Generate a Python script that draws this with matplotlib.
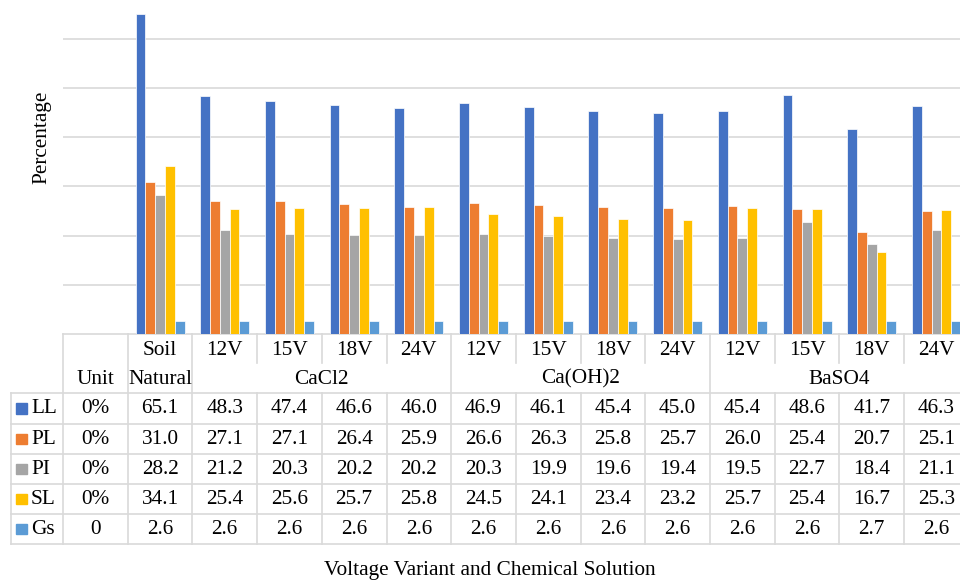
import matplotlib.pyplot as plt
from matplotlib.patches import Rectangle
from matplotlib.transforms import blended_transform_factory

plt.rcParams['font.family'] = ['Liberation Serif', 'DejaVu Serif']

# chart data
voltages = ['12V', '15V', '18V', '24V'] * 3
groups = ['CaCl2', 'Ca(OH)2', 'BaSO4']
series = ['LL', 'PL', 'PI', 'SL', 'Gs']
unit_labels = ['0%', '0%', '0%', '0%', '0']
LL = [65.1, 48.3, 47.4, 46.6, 46.0, 46.9, 46.1, 45.4, 45.0, 45.4, 48.6, 41.7, 46.3]
PL = [31.0, 27.1, 27.1, 26.4, 25.9, 26.6, 26.3, 25.8, 25.7, 26.0, 25.4, 20.7, 25.1]
PI = [28.2, 21.2, 20.3, 20.2, 20.2, 20.3, 19.9, 19.6, 19.4, 19.5, 22.7, 18.4, 21.1]
SL = [34.1, 25.4, 25.6, 25.7, 25.8, 24.5, 24.1, 23.4, 23.2, 25.7, 25.4, 16.7, 25.3]
Gs = [2.6, 2.6, 2.6, 2.6, 2.6, 2.6, 2.6, 2.6, 2.6, 2.6, 2.6, 2.7, 2.6]
colors = ['#4472C4', '#ED7D31', '#A5A5A5', '#FFC000', '#5B9BD5']
values = [LL, PL, PI, SL, Gs]

W, H = 960, 581
FS = 15.3
grid_c = '#d9d9d9'

fig = plt.figure(figsize=(W / 100, H / 100), dpi=100)
base = 334.3
ax = fig.add_axes([63 / W, (H - base) / H, (W - 63) / W, base / H])
colw = 64.7
ax.set_xlim(-0.5, -0.5 + (W - 63) / colw)
ax.set_ylim(0, base / 4.927)

bw = 9.8 / colw
xs = list(range(1, 14))
for k, (vals, c) in enumerate(zip(values, colors)):
    ax.bar([x + (k - 2) * bw for x in xs], vals, width=bw, color=c,
           edgecolor='white', linewidth=0.5, zorder=3)

ax.set_yticks(range(10, 70, 10))
ax.yaxis.grid(True, color=grid_c, linewidth=1.2)
ax.set_axisbelow(True)
ax.tick_params(left=False, labelleft=False, bottom=False, labelbottom=False)
for s in ['left', 'right', 'top']:
    ax.spines[s].set_visible(False)
ax.spines['bottom'].set_color(grid_c)
ax.spines['bottom'].set_linewidth(1.2)

# data table below the axis
tr = blended_transform_factory(ax.transData, fig.transFigure)
fy = lambda py: 1 - py / H
xleft = -0.5 - (63 - 10.7) / colw
xright = 13.5
rows_y = [393.3, 424, 454, 484, 514.3, 544]

def hline(py, x0, x1):
    ax.plot([x0, x1], [fy(py), fy(py)], color=grid_c, lw=1.2, transform=tr, clip_on=False)

def vline(x, py0, py1):
    ax.plot([x, x], [fy(py0), fy(py1)], color=grid_c, lw=1.2, transform=tr, clip_on=False)

for py in rows_y:
    hline(py, xleft, xright)
vline(xleft, 393.3, 544)
for b in range(15):
    x = b - 0.5
    if b in (0, 1, 2, 6, 10, 14):
        vline(x, base, 544)
    else:
        vline(x, base, 363)
        vline(x, 393.3, 544)

def txt(x, py, s, ha='center'):
    ax.text(x, fy(py), s, transform=tr, ha=ha, va='center', fontsize=FS)

txt(1, 350.7, 'Soil')
for i, v in enumerate(voltages):
    txt(i + 2, 350.7, v)
txt(0, 379, 'Unit')
txt(1, 379, 'Natural')
for g, name in enumerate(groups):
    txt(2 + 4 * g + 1.5, 379, name)

for r, (name, vals, c) in enumerate(zip(series, values, colors)):
    cy = (rows_y[r] + rows_y[r + 1]) / 2
    txt(0, cy, unit_labels[r])
    for i, v in enumerate(vals):
        txt(i + 1, cy, f'{v:.1f}')
    fig.patches.append(Rectangle((16 / W, fy(cy + 5)), 10.5 / W, 10.5 / H,
                                 transform=fig.transFigure, color=c))
    fig.text(31 / W, fy(cy), name, ha='left', va='center', fontsize=FS)

fig.text(490 / W, fy(571), 'Voltage Variant and Chemical Solution',
         ha='center', va='center', fontsize=FS)
fig.text(42 / W, fy(137), 'Percentage', rotation=90,
         ha='center', va='center', fontsize=FS)

fig.savefig('out.png', dpi=100)
